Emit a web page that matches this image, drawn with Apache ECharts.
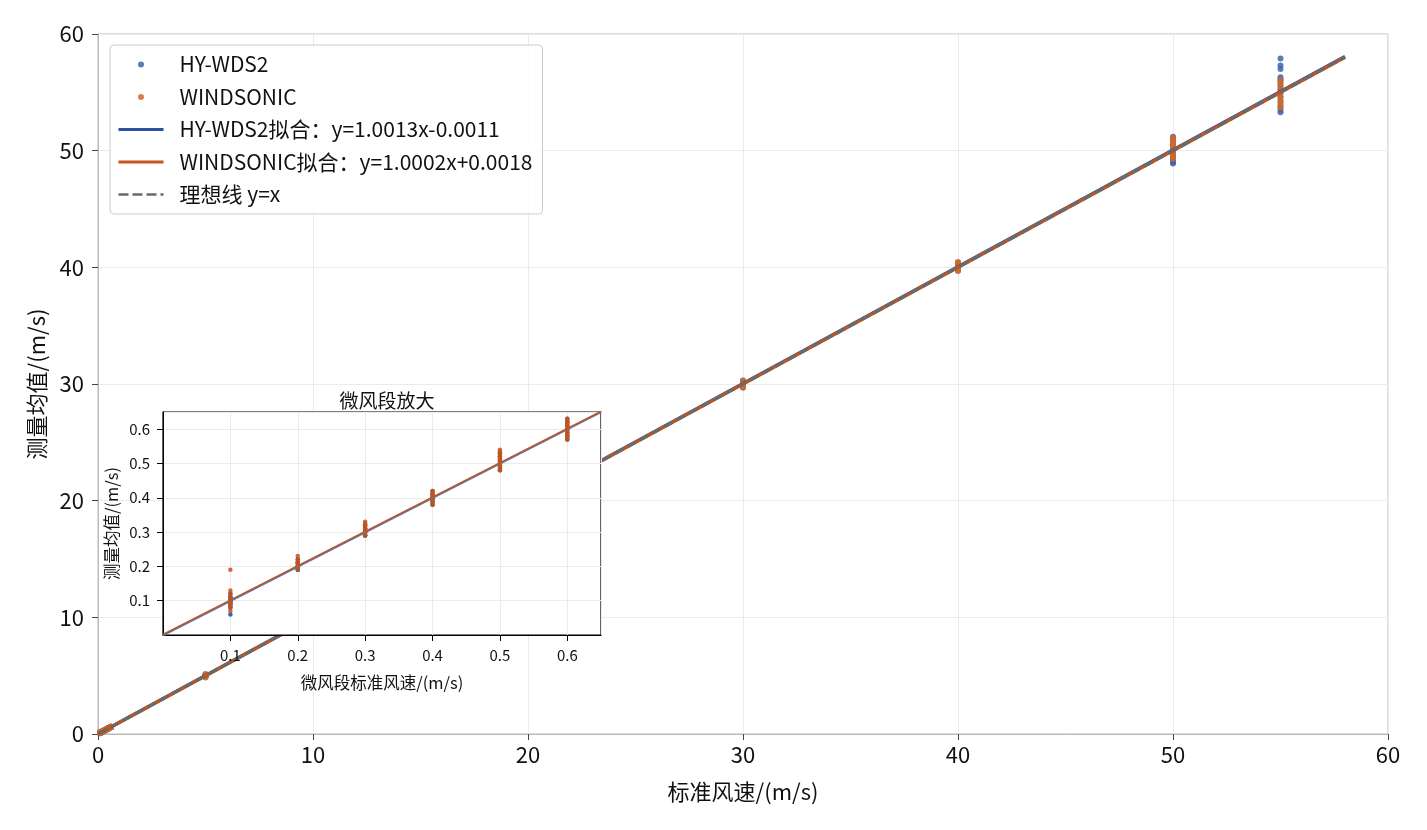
<!DOCTYPE html>
<html>
<head>
<meta charset="utf-8">
<script src="https://cdn.jsdelivr.net/npm/echarts@6/dist/echarts.min.js"></script>
<style>
  html, body { margin: 0; padding: 0; background: #fff; }
  #main { width: 1427px; height: 830px; }
</style>
</head>
<body>
<div id="main"></div>
<script>
// standard wind speeds (m/s)
var speeds = [0.1, 0.2, 0.3, 0.4, 0.5, 0.6, 5, 30, 40, 50, 55];

// HY-WDS2 readings at each standard speed
var hy01 = [0.06, 0.08, 0.09, 0.10, 0.10, 0.11, 0.12, 0.09, 0.10, 0.11];
var hy02 = [0.19, 0.20, 0.21, 0.20, 0.22, 0.19, 0.20, 0.21];
var hy03 = [0.29, 0.30, 0.31, 0.32, 0.30, 0.31, 0.29];
var hy04 = [0.38, 0.39, 0.40, 0.41, 0.42, 0.40];
var hy05 = [0.48, 0.49, 0.50, 0.51, 0.52, 0.53];
var hy06 = [0.57, 0.58, 0.59, 0.60, 0.61, 0.62, 0.63];
var hy5 = [4.9, 5.0, 5.05, 5.1, 4.95];
var hy30 = [29.7, 29.9, 30.0, 30.1, 30.3];
var hy40 = [39.7, 39.9, 40.0, 40.2, 40.4];
var hy50 = [48.9, 49.0, 49.2, 49.5, 49.8, 50.0, 50.2, 50.5, 50.8, 51.0, 51.2];
var hy55 = [53.3, 53.5, 53.8, 54.2, 54.6, 55.0, 55.3, 55.6, 55.9, 56.1, 56.3, 57.0, 57.3, 57.9];

// WINDSONIC readings at each standard speed
var ws01 = [0.07, 0.08, 0.085, 0.09, 0.095, 0.10, 0.105, 0.11, 0.12, 0.13, 0.19];
var ws02 = [0.19, 0.195, 0.20, 0.205, 0.21, 0.215, 0.22, 0.23];
var ws03 = [0.29, 0.295, 0.30, 0.305, 0.31, 0.315, 0.32, 0.325, 0.33];
var ws04 = [0.38, 0.385, 0.39, 0.395, 0.40, 0.405, 0.41, 0.415, 0.42];
var ws05 = [0.48, 0.485, 0.49, 0.495, 0.50, 0.505, 0.51, 0.515, 0.52, 0.525, 0.53, 0.535, 0.54];
var ws06 = [0.57, 0.575, 0.58, 0.585, 0.59, 0.595, 0.60, 0.605, 0.61, 0.615, 0.62, 0.625, 0.63];
var ws5 = [4.85, 4.95, 5.0, 5.05, 5.15];
var ws30 = [29.7, 29.85, 30.0, 30.1, 30.25];
var ws40 = [39.7, 39.85, 40.0, 40.15, 40.3, 40.45];
var ws50 = [49.3, 49.5, 49.7, 49.9, 50.1, 50.3, 50.5, 50.7, 50.9, 51.1];
var ws55 = [53.7, 54.0, 54.3, 54.6, 54.9, 55.2, 55.5, 55.8, 56.05];

var hyGroups = [hy01, hy02, hy03, hy04, hy05, hy06, hy5, hy30, hy40, hy50, hy55];
var wsGroups = [ws01, ws02, ws03, ws04, ws05, ws06, ws5, ws30, ws40, ws50, ws55];

// fit coefficients [slope, intercept] from the legend
var hyFit = [1.0013, -0.0011];
var wsFit = [1.0002, 0.0018];
var fitRange = [0, 58];
var insetRange = [0, 0.65];

var mainTicks = [0, 10, 20, 30, 40, 50, 60];
var insetTicks = [0.1, 0.2, 0.3, 0.4, 0.5, 0.6];

var cBlueDot = '#3f64ad', cBlue = '#2b52a0';
var cOrangeDot = '#d06a28', cOrange = '#c4541a';
var cIdeal = '#6a6a6a';
var font = '"Noto Sans CJK SC", "Noto Sans", sans-serif';

function points(groups, maxSpeed) {
  var out = [];
  groups.forEach(function (vals, i) {
    if (speeds[i] > maxSpeed) return;
    vals.forEach(function (v) { out.push([speeds[i], v]); });
  });
  return out;
}
function fitLine(fit, range) {
  return range.map(function (x) { return [x, fit[0] * x + fit[1]]; });
}
function identity(range) {
  return range.map(function (x) { return [x, x]; });
}
function insetLabel(v) {
  return insetTicks.indexOf(+v.toFixed(2)) >= 0 ? v.toFixed(1) : '';
}

var chart = echarts.init(document.getElementById('main'));

var noDot = { opacity: 0 };

var option = {
  animation: false,
  backgroundColor: '#fff',
  textStyle: { fontFamily: font },
  title: {
    text: '微风段放大',
    left: 382,
    top: 386,
    textAlign: 'center',
    zlevel: 1,
    textStyle: { fontFamily: font, fontSize: 19, fontWeight: 'normal', color: '#111' }
  },
  legend: {
    orient: 'vertical',
    left: 110,
    top: 45,
    padding: [9, 10, 9, 7],
    itemWidth: 45,
    itemHeight: 6,
    itemGap: 11.5,
    backgroundColor: 'rgba(255,255,255,0.85)',
    borderColor: '#cccccc',
    borderWidth: 1,
    borderRadius: 4,
    zlevel: 2,
    textStyle: { fontFamily: font, fontSize: 21, color: '#111', padding: [0, 0, 0, 11] },
    data: [
      { name: 'HY-WDS2', icon: 'circle' },
      { name: 'WINDSONIC', icon: 'circle' },
      { name: 'HY-WDS2拟合：y=1.0013x-0.0011', itemStyle: noDot, lineStyle: { width: 3 } },
      { name: 'WINDSONIC拟合：y=1.0002x+0.0018', itemStyle: noDot, lineStyle: { width: 3 } },
      { name: '理想线 y=x', itemStyle: noDot, lineStyle: { width: 2.5 } }
    ]
  },
  grid: [
    { left: 98, right: 39, top: 34, bottom: 96, show: true, borderColor: '#bbbbbb', borderWidth: 1 },
    { left: 163, top: 412, width: 438, height: 223, show: true, backgroundColor: '#ffffff',
      borderColor: '#000000', borderWidth: 1.2, zlevel: 1 }
  ],
  xAxis: [
    {
      gridIndex: 0, type: 'value', min: mainTicks[0], max: mainTicks[mainTicks.length - 1], interval: 10,
      name: '标准风速/(m/s)', nameLocation: 'middle', nameGap: 47,
      nameTextStyle: { fontSize: 22, color: '#111', fontFamily: font },
      axisLine: { lineStyle: { color: '#bbbbbb' } },
      axisTick: { show: true, length: 6, lineStyle: { color: '#444' } },
      axisLabel: { fontSize: 22, color: '#111', margin: 10, fontFamily: font },
      splitLine: { lineStyle: { color: '#ebebeb' } }
    },
    {
      gridIndex: 1, type: 'value', min: insetRange[0], max: insetRange[1], interval: 0.1,
      zlevel: 1,
      name: '微风段标准风速/(m/s)', nameLocation: 'middle', nameGap: 39,
      nameTextStyle: { fontSize: 16.5, color: '#111', fontFamily: font },
      axisLine: { lineStyle: { color: '#000' } },
      axisTick: { show: true, length: 6, lineStyle: { color: '#000' } },
      axisLabel: {
        fontSize: 15, color: '#111', margin: 13, fontFamily: font,
        showMinLabel: false, showMaxLabel: false, formatter: insetLabel
      },
      splitLine: { lineStyle: { color: '#ebebeb' } }
    }
  ],
  yAxis: [
    {
      gridIndex: 0, type: 'value', min: mainTicks[0], max: mainTicks[mainTicks.length - 1], interval: 10,
      name: '测量均值/(m/s)', nameLocation: 'middle', nameGap: 50,
      nameTextStyle: { fontSize: 22, color: '#111', fontFamily: font },
      axisLine: { show: true, lineStyle: { color: '#bbbbbb' } },
      axisTick: { show: true, length: 6, lineStyle: { color: '#444' } },
      axisLabel: { fontSize: 22, color: '#111', margin: 14, fontFamily: font },
      splitLine: { lineStyle: { color: '#ebebeb' } }
    },
    {
      gridIndex: 1, type: 'value', min: insetRange[0], max: insetRange[1], interval: 0.1,
      zlevel: 1,
      name: '测量均值/(m/s)', nameLocation: 'middle', nameGap: 43,
      nameTextStyle: { fontSize: 16.5, color: '#111', fontFamily: font },
      axisLine: { show: true, lineStyle: { color: '#000' } },
      axisTick: { show: true, length: 6, lineStyle: { color: '#000' } },
      axisLabel: {
        fontSize: 15, color: '#111', margin: 13, fontFamily: font,
        showMinLabel: false, showMaxLabel: false, formatter: insetLabel
      },
      splitLine: { lineStyle: { color: '#ebebeb' } }
    }
  ],
  series: [
    // main panel
    { name: 'HY-WDS2', type: 'scatter', xAxisIndex: 0, yAxisIndex: 0, symbolSize: 6,
      itemStyle: { color: cBlueDot, opacity: 0.85 }, data: points(hyGroups, 100) },
    { name: 'WINDSONIC', type: 'scatter', xAxisIndex: 0, yAxisIndex: 0, symbolSize: 6,
      itemStyle: { color: cOrangeDot, opacity: 0.85 }, data: points(wsGroups, 100) },
    { name: 'HY-WDS2拟合：y=1.0013x-0.0011', type: 'line', xAxisIndex: 0, yAxisIndex: 0,
      symbol: 'none', lineStyle: { color: cBlue, width: 3.5 }, itemStyle: { color: cBlue },
      data: fitLine(hyFit, fitRange) },
    { name: 'WINDSONIC拟合：y=1.0002x+0.0018', type: 'line', xAxisIndex: 0, yAxisIndex: 0,
      symbol: 'none', lineStyle: { color: cOrange, width: 3.5 }, itemStyle: { color: cOrange },
      data: fitLine(wsFit, fitRange) },
    { name: '理想线 y=x', type: 'line', xAxisIndex: 0, yAxisIndex: 0,
      symbol: 'none', lineStyle: { color: cIdeal, width: 3, type: [10, 4] }, itemStyle: { color: cIdeal },
      data: identity(fitRange) },
    // inset panel
    { name: 'HY-WDS2', type: 'scatter', xAxisIndex: 1, yAxisIndex: 1, symbolSize: 4.5, zlevel: 1,
      itemStyle: { color: cBlue, opacity: 0.9 }, data: points(hyGroups, 0.6) },
    { name: 'WINDSONIC', type: 'scatter', xAxisIndex: 1, yAxisIndex: 1, symbolSize: 4.5, zlevel: 1,
      itemStyle: { color: cOrange, opacity: 0.85 }, data: points(wsGroups, 0.6) },
    { name: 'HY-WDS2拟合：y=1.0013x-0.0011', type: 'line', xAxisIndex: 1, yAxisIndex: 1, zlevel: 1,
      symbol: 'none', lineStyle: { color: '#5a78b0', width: 2 }, data: fitLine(hyFit, insetRange) },
    { name: 'WINDSONIC拟合：y=1.0002x+0.0018', type: 'line', xAxisIndex: 1, yAxisIndex: 1, zlevel: 1,
      symbol: 'none', lineStyle: { color: cOrange, width: 1.5 }, data: fitLine(wsFit, insetRange) }
  ]
};

option && chart.setOption(option);
</script>
</body>
</html>
